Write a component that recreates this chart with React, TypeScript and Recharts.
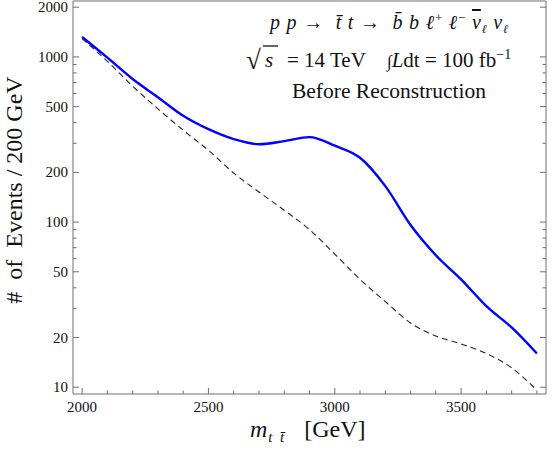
import { LineChart, Line, XAxis, YAxis } from "recharts";

// invariant mass bins (GeV)
const massGeV = [2000, 2100, 2200, 2300, 2400, 2500, 2600, 2700, 2800, 2900, 3000, 3100, 3200, 3300, 3400, 3500, 3600, 3700, 3800];
// solid blue: events before reconstruction
const beforeReco = [1320, 990, 735, 570, 440, 365, 318, 296, 309, 327, 290, 245, 165, 96, 63, 45, 31, 23, 16];
// dashed: background-only shape
const background = [1290, 940, 665, 485, 360, 272, 198, 152, 118, 90, 64, 45, 33, 24.5, 20.4, 18.3, 16, 13.1, 9.6];

const xMajorTicks = [2000, 2500, 3000, 3500];
const xMinorTicks = [2000, 2100, 2200, 2300, 2400, 2500, 2600, 2700, 2800, 2900, 3000, 3100, 3200, 3300, 3400, 3500, 3600, 3700, 3800];
const yLabelTicks = [10, 20, 50, 100, 200, 500, 1000, 2000];
const yMinorTicks = [10, 20, 30, 40, 50, 60, 70, 80, 90, 100, 200, 300, 400, 500, 600, 700, 800, 900, 1000, 2000];

const X_DOMAIN: [number, number] = [1964, 3836];
const Y_DOMAIN: [number, number] = [9.1, 2180];

const FONT = '"Liberation Serif", "DejaVu Serif", serif';
const FRAME = "#6e6e6e";
const MAJOR = 6;
const MINOR = 3.5;

const data = massGeV.map((m, i) => ({ mass: m, reco: beforeReco[i], bkg: background[i] }));

// Mathematica-style frame ticks: marks point into the plot, labels sit outside
const BottomTick = ({ x, y, payload }: any) => {
    const major = xMajorTicks.includes(payload.value);
    return (
        <g>
            <line x1={x} x2={x} y1={y} y2={y - (major ? MAJOR : MINOR)} stroke={FRAME} />
            {major && (
                <text x={x} y={y + 18} textAnchor="middle" fontSize={15} fontFamily={FONT} fill="#111">{payload.value}</text>
            )}
        </g>
    );
};

const TopTick = ({ x, y, payload }: any) => {
    const major = xMajorTicks.includes(payload.value);
    return <line x1={x} x2={x} y1={y} y2={y + (major ? MAJOR : MINOR)} stroke={FRAME} />;
};

const LeftTick = ({ x, y, payload }: any) => {
    const major = yLabelTicks.includes(payload.value);
    return (
        <g>
            <line x1={x} x2={x + (major ? MAJOR : MINOR)} y1={y} y2={y} stroke={FRAME} />
            {major && (
                <text x={x - 5} y={y + 5} textAnchor="end" fontSize={15} fontFamily={FONT} fill="#111">{payload.value}</text>
            )}
        </g>
    );
};

const RightTick = ({ x, y, payload }: any) => {
    const major = yLabelTicks.includes(payload.value);
    return <line x1={x} x2={x - (major ? MAJOR : MINOR)} y1={y} y2={y} stroke={FRAME} />;
};

export default function App() {
    return (
        <div style={{ position: "absolute", left: 0, top: 0, width: 556, height: 459, background: "#fff" }}>
            <LineChart width={556} height={459} data={data} margin={{ top: 0, right: 0, bottom: 35, left: 0 }}>
                <XAxis xAxisId="x" dataKey="mass" type="number" domain={X_DOMAIN} allowDataOverflow orientation="bottom"
                    ticks={xMinorTicks} interval={0} height={30} tickLine={false} tickSize={0} tickMargin={0}
                    tick={BottomTick} axisLine={{ stroke: FRAME }} />
                <XAxis xAxisId="top" type="number" domain={X_DOMAIN} allowDataOverflow orientation="top"
                    ticks={xMinorTicks} interval={0} height={1} tickLine={false} tickSize={0} tickMargin={0}
                    tick={TopTick} axisLine={{ stroke: FRAME }} />
                <YAxis yAxisId="y" type="number" scale="log" domain={Y_DOMAIN} allowDataOverflow orientation="left"
                    ticks={yMinorTicks} interval={0} width={73} tickLine={false} tickSize={0} tickMargin={0}
                    tick={LeftTick} axisLine={{ stroke: FRAME }} />
                <YAxis yAxisId="right" type="number" scale="log" domain={Y_DOMAIN} allowDataOverflow orientation="right"
                    ticks={yMinorTicks} interval={0} width={10} tickLine={false} tickSize={0} tickMargin={0}
                    tick={RightTick} axisLine={{ stroke: FRAME }} />

                <Line xAxisId="x" yAxisId="y" type="monotone" dataKey="bkg" stroke="#222" strokeWidth={1.1}
                    strokeDasharray="6 4" dot={false} isAnimationActive={false} />
                <Line xAxisId="x" yAxisId="y" type="monotone" dataKey="reco" stroke="#0000ff" strokeWidth={2.4}
                    dot={false} isAnimationActive={false} />
            </LineChart>

            <svg width={556} height={459} style={{ position: "absolute", left: 0, top: 0, pointerEvents: "none" }}
                fontFamily={FONT} fill="#111">
                {/* process line */}
                <text x={270} y={29} fontSize={20} fontStyle="italic" xmlSpace="preserve" textLength={238} lengthAdjust="spacing">
                    p p <tspan fontStyle="normal">→</tspan>  t̄ t <tspan fontStyle="normal">→</tspan>  b̄ b ℓ<tspan fontSize={13} dy={-7} fontStyle="normal">+</tspan>
                    <tspan dy={7}> ℓ</tspan><tspan fontSize={13} dy={-7} fontStyle="normal">−</tspan>
                    <tspan dy={7}> </tspan><tspan textDecoration="overline">ν</tspan><tspan fontSize={12} dy={4}>ℓ</tspan>
                    <tspan dy={-4}> ν</tspan><tspan fontSize={12} dy={4}>ℓ</tspan>
                </text>

                {/* sqrt(s) and luminosity */}
                <text x={246} y={69} fontSize={27}>√</text>
                <line x1={263} y1={46} x2={278} y2={46} stroke="#111" strokeWidth={1.3} />
                <text x={265} y={67} fontSize={21} fontStyle="italic">s</text>
                <text x={287} y={67} fontSize={21}>= 14 TeV</text>
                <text x={387} y={67} fontSize={21}>
                    <tspan fontStyle="italic" fontSize={17}>∫</tspan><tspan fontStyle="italic">L</tspan>dt = 100 fb<tspan fontSize={14} dy={-8}>−1</tspan>
                </text>

                <text x={389} y={98} fontSize={21.5} textAnchor="middle">Before Reconstruction</text>

                {/* axis titles */}
                <text transform="translate(22,190) rotate(-90)" fontSize={24} textAnchor="middle" xmlSpace="preserve">
                    #  of  Events / 200 GeV
                </text>
                <text x={250} y={437} fontSize={24} xmlSpace="preserve">
                    <tspan fontStyle="italic">m</tspan><tspan fontStyle="italic" fontSize={15} dy={5} dx={1}>t  t̄</tspan><tspan dy={-5} dx={20}>[GeV]</tspan>
                </text>
            </svg>
        </div>
    );
}
